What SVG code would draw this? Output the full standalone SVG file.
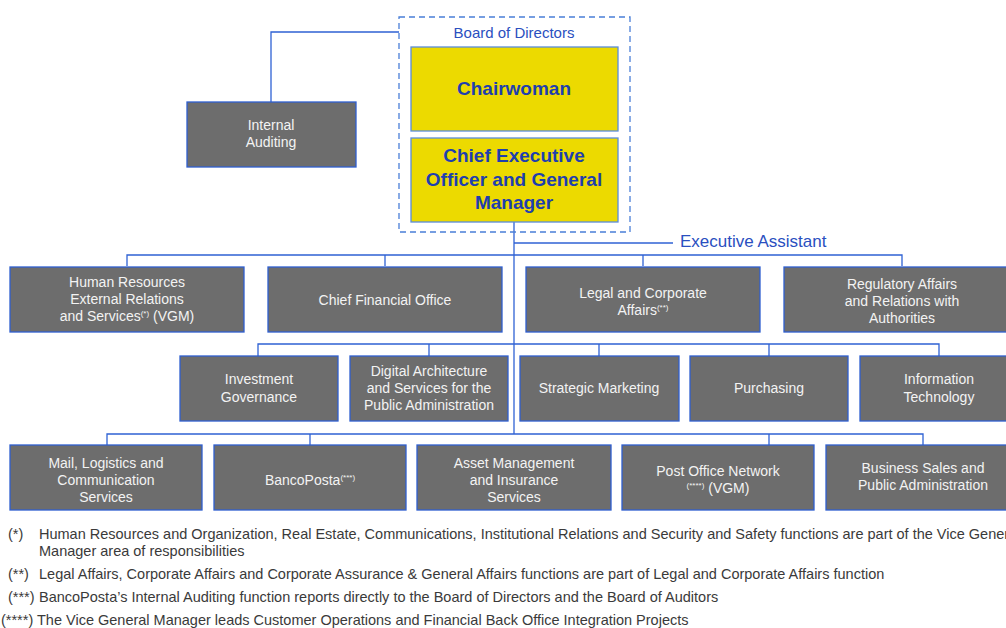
<svg xmlns="http://www.w3.org/2000/svg" width="1006" height="628" viewBox="0 0 1006 628">
  <style>
    .unit { fill: #6d6d6d; stroke: #2f5fd0; stroke-width: 1.3; }
    .top { fill: #ecda00; stroke: #5b8ddb; stroke-width: 1.3; }
    .lbl { font-family: "Liberation Sans", Arial, sans-serif; font-size: 14px; fill: #f3f3f3; text-anchor: middle; }
    .big { font-family: "Liberation Sans", Arial, sans-serif; font-size: 19px; font-weight: bold; fill: #1e3fae; text-anchor: middle; }
    .sup { font-size: 8px; }
    .note { font-family: "Liberation Sans", Arial, sans-serif; font-size: 14.5px; fill: #3a3a3a; }
    .wire { fill: none; stroke: #2f62d4; stroke-width: 1.3; }
  </style>
  <rect width="1006" height="628" fill="#ffffff"/>

  <!-- connectors -->
  <g id="connectors" class="wire">
    <path d="M399,32 H271 V102"/>
    <path d="M514,222 V434"/>
    <path d="M514,243 H673"/>
    <path d="M127,266 V255 H902 V266"/>
    <path d="M385,255 V266"/>
    <path d="M643,255 V266"/>
    <path d="M258,356 V344 H939 V356"/>
    <path d="M429,344 V356"/>
    <path d="M599,344 V356"/>
    <path d="M769,344 V356"/>
    <path d="M107,445 V434 H923 V445"/>
    <path d="M310,434 V445"/>
    <path d="M769,434 V445"/>
  </g>

  <!-- board -->
  <g id="board">
    <rect x="399" y="17" width="231" height="215" fill="none" stroke="#4a7fd8" stroke-width="1.3" stroke-dasharray="6 4"/>
    <text x="514" y="38" font-family="Liberation Sans, Arial, sans-serif" font-size="15" fill="#2a4fc0" text-anchor="middle">Board of Directors</text>
  </g>
  <g id="chairwoman">
    <rect class="top" x="411" y="47" width="207" height="84"/>
    <text class="big" x="514" y="95">Chairwoman</text>
  </g>
  <g id="ceo">
    <rect class="top" x="411" y="138" width="207" height="84"/>
    <text class="big" x="514" y="162">Chief Executive</text>
    <text class="big" x="514" y="186">Officer and General</text>
    <text class="big" x="514" y="209">Manager</text>
  </g>
  <g id="internal-auditing">
    <rect class="unit" x="187" y="102" width="169" height="65"/>
    <text class="lbl" x="271" y="130">Internal</text>
    <text class="lbl" x="271" y="147">Auditing</text>
  </g>
  <g id="executive-assistant">
    <text x="680" y="247" font-family="Liberation Sans, Arial, sans-serif" font-size="17" fill="#2a4fc0">Executive Assistant</text>
  </g>

  <!-- first line -->
  <g id="human-resources">
    <rect class="unit" x="10" y="267" width="234" height="65"/>
    <text class="lbl" x="127" y="287">Human Resources</text>
    <text class="lbl" x="127" y="304">External Relations</text>
    <text class="lbl" x="127" y="321">and Services<tspan class="sup" dy="-5">(*)</tspan><tspan dy="5"> (VGM)</tspan></text>
  </g>
  <g id="cfo">
    <rect class="unit" x="268" y="267" width="234" height="65"/>
    <text class="lbl" x="385" y="305">Chief Financial Office</text>
  </g>
  <g id="legal">
    <rect class="unit" x="526" y="267" width="234" height="65"/>
    <text class="lbl" x="643" y="298">Legal and Corporate</text>
    <text class="lbl" x="643" y="315">Affairs<tspan class="sup" dy="-5">(**)</tspan></text>
  </g>
  <g id="regulatory">
    <rect class="unit" x="784" y="267" width="234" height="65"/>
    <text class="lbl" x="902" y="289">Regulatory Affairs</text>
    <text class="lbl" x="902" y="306">and Relations with</text>
    <text class="lbl" x="902" y="323">Authorities</text>
  </g>

  <!-- second line -->
  <g id="investment">
    <rect class="unit" x="180" y="356" width="158" height="65"/>
    <text class="lbl" x="259" y="384">Investment</text>
    <text class="lbl" x="259" y="402">Governance</text>
  </g>
  <g id="digital">
    <rect class="unit" x="350" y="356" width="158" height="65"/>
    <text class="lbl" x="429" y="376">Digital Architecture</text>
    <text class="lbl" x="429" y="393">and Services for the</text>
    <text class="lbl" x="429" y="410">Public Administration</text>
  </g>
  <g id="marketing">
    <rect class="unit" x="520" y="356" width="159" height="65"/>
    <text class="lbl" x="599" y="393">Strategic Marketing</text>
  </g>
  <g id="purchasing">
    <rect class="unit" x="690" y="356" width="158" height="65"/>
    <text class="lbl" x="769" y="393">Purchasing</text>
  </g>
  <g id="it">
    <rect class="unit" x="860" y="356" width="158" height="65"/>
    <text class="lbl" x="939" y="384">Information</text>
    <text class="lbl" x="939" y="402">Technology</text>
  </g>

  <!-- business units -->
  <g id="mail">
    <rect class="unit" x="10" y="445" width="192" height="65"/>
    <text class="lbl" x="106" y="468">Mail, Logistics and</text>
    <text class="lbl" x="106" y="485">Communication</text>
    <text class="lbl" x="106" y="502">Services</text>
  </g>
  <g id="bancoposta">
    <rect class="unit" x="214" y="445" width="192" height="65"/>
    <text class="lbl" x="310" y="485">BancoPosta<tspan class="sup" dy="-5">(***)</tspan></text>
  </g>
  <g id="asset-management">
    <rect class="unit" x="417" y="445" width="194" height="65"/>
    <text class="lbl" x="514" y="468">Asset Management</text>
    <text class="lbl" x="514" y="485">and Insurance</text>
    <text class="lbl" x="514" y="502">Services</text>
  </g>
  <g id="post-office">
    <rect class="unit" x="622" y="445" width="192" height="65"/>
    <text class="lbl" x="718" y="476">Post Office Network</text>
    <text class="lbl" x="718" y="493"><tspan class="sup" dy="-5">(****)</tspan><tspan dy="5"> (VGM)</tspan></text>
  </g>
  <g id="business-sales">
    <rect class="unit" x="826" y="445" width="196" height="65"/>
    <text class="lbl" x="923" y="473">Business Sales and</text>
    <text class="lbl" x="923" y="490">Public Administration</text>
  </g>

  <!-- notes -->
  <g id="notes" class="note">
    <text x="8" y="539">(*)</text>
    <text x="39" y="539">Human Resources and Organization, Real Estate, Communications, Institutional Relations and Security and Safety functions are part of the Vice General</text>
    <text x="39" y="556">Manager area of responsibilities</text>
    <text x="8" y="579">(**)</text>
    <text x="39" y="579">Legal Affairs, Corporate Affairs and Corporate Assurance &amp; General Affairs functions are part of Legal and Corporate Affairs function</text>
    <text x="8" y="602">(***)</text>
    <text x="39" y="602">BancoPosta’s Internal Auditing function reports directly to the Board of Directors and the Board of Auditors</text>
    <text x="1" y="625">(****) The Vice General Manager leads Customer Operations and Financial Back Office Integration Projects</text>
  </g>
</svg>
